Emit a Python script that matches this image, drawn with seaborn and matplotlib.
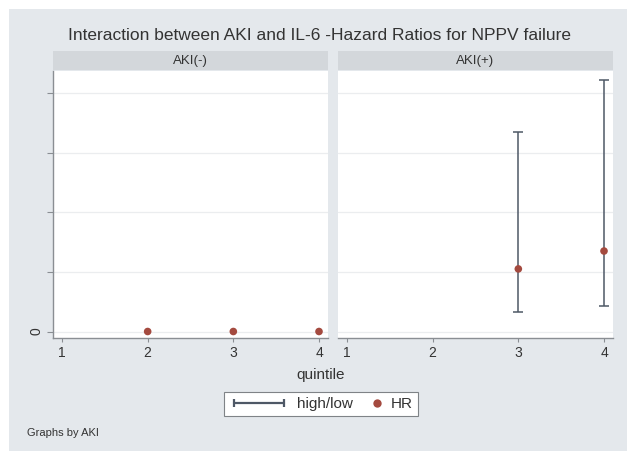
import matplotlib
matplotlib.use("Agg")
import matplotlib.pyplot as plt
import numpy as np
import pandas as pd
import seaborn as sns
from matplotlib.lines import Line2D
from matplotlib.patches import Rectangle
from matplotlib.legend_handler import HandlerLine2D

# data (y in axis units, tick labels other than 0 not shown)
panels = ["AKI(-)", "AKI(+)"]
quintile_neg = [2, 3, 4]
hr_neg = [0.0, 0.0, 0.0]
quintile_pos = [3, 4]
hr_pos = [1.05, 1.35]
low_pos = [0.33, 0.43]
high_pos = [3.34, 4.22]
x_ticks = [1, 2, 3, 4]
y_ticks = [0, 1, 2, 3, 4]
y_ticklabels = ["0", "", "", "", ""]

df = pd.concat([
    pd.DataFrame({"AKI": panels[0], "quintile": quintile_neg, "HR": hr_neg}),
    pd.DataFrame({"AKI": panels[1], "quintile": quintile_pos, "HR": hr_pos,
                  "low": low_pos, "high": high_pos}),
], ignore_index=True)

sns.set_style("white")
plt.rcParams['font.family'] = ['Liberation Sans', 'DejaVu Sans']

bg = '#E4E8EC'
strip_col = '#D3D7DB'
bar_col = '#4E5866'
hr_col = '#A44A3F'
txt = '#333333'
axis_col = '#8A8E93'

fig = plt.figure(figsize=(6.27, 4.51), dpi=100)
fig.patch.set_facecolor('white')
fig.add_artist(Rectangle((9/627, 0), 1, 1 - 9/451, transform=fig.transFigure,
                         facecolor=bg, edgecolor='none', zorder=-10))

W, H = 627, 451
ax_l = fig.add_axes([53/W, 1 - 338/H, 275/W, 267/H])
ax_r = fig.add_axes([338/W, 1 - 338/H, 275/W, 267/H])

for ax, name in zip([ax_l, ax_r], panels):
    sub = df[df["AKI"] == name]
    ax.set_facecolor('white')
    ax.set_xlim(0.895, 4.105)
    ax.set_ylim(-0.109, 4.37)
    ax.set_yticks(y_ticks)
    ax.set_xticks(x_ticks)
    ax.set_xticklabels([str(t) for t in x_ticks])
    ax.grid(axis='y', color='#EBEDEF', lw=0.9, zorder=0)
    ax.set_axisbelow(True)
    rng = sub.dropna(subset=["low", "high"])
    if len(rng):
        ax.errorbar(rng["quintile"], rng["HR"],
                    yerr=[rng["HR"] - rng["low"], rng["high"] - rng["HR"]],
                    fmt='none', ecolor=bar_col, elinewidth=1.1, capsize=3.5,
                    capthick=1.1, zorder=2)
    sns.scatterplot(data=sub, x="quintile", y="HR", ax=ax, color=hr_col,
                    s=30, edgecolor='none', zorder=3, legend=False)
    ax.set_xlabel('')
    ax.set_ylabel('')
    for s in ['top', 'right']:
        ax.spines[s].set_visible(False)
    ax.spines['bottom'].set_color(axis_col)
    ax.spines['bottom'].set_linewidth(1.0)
    ax.tick_params(axis='x', bottom=True, length=3, width=0.8, color=axis_col,
                   labelsize=10, labelcolor=txt, pad=3)
    # strip header
    ax.add_patch(Rectangle((0, 1.004), 1, 19/267, transform=ax.transAxes,
                           facecolor=strip_col, edgecolor='none', clip_on=False))
    ax.text(0.5, 1 + 10/267, name, transform=ax.transAxes, ha='center',
            va='center', fontsize=9.5, color=txt)

ax_l.spines['left'].set_color(axis_col)
ax_l.spines['left'].set_linewidth(1.0)
ax_l.set_yticklabels(y_ticklabels, rotation=90, va='center')
ax_l.tick_params(axis='y', left=True, length=4, width=0.8, color=axis_col,
                 labelsize=10, labelcolor=txt, pad=3)
ax_r.spines['left'].set_visible(False)
ax_r.tick_params(axis='y', left=False, labelleft=False)

fig.text(320/W, 1 - 35/H, "Interaction between AKI and IL-6 -Hazard Ratios for NPPV failure",
         ha='center', va='center', fontsize=12.5, color=txt)
fig.text(321/W, 1 - 375/H, "quintile", ha='center', va='center', fontsize=11, color=txt)
fig.text(27/W, 1 - 433/H, "Graphs by AKI", ha='left', va='center', fontsize=8, color=txt)


class RightMarker(HandlerLine2D):
    def get_xdata(self, legend, xdescent, ydescent, width, height, fontsize):
        x = -xdescent + width - 0.35 * fontsize
        return [x], [x]


bar_handle = Line2D([], [], color=bar_col, lw=1.6, marker='|', markersize=6,
                    markeredgewidth=1.6)
hr_handle = Line2D([], [], ls='none', marker='o', color=hr_col, markersize=6,
                   markeredgewidth=0)
leg = fig.legend([bar_handle, hr_handle], ["high/low", "HR"], ncol=2,
                 loc='center', bbox_to_anchor=(321/W, 1 - 404/H),
                 fontsize=11, handlelength=3.9, handletextpad=0.55,
                 columnspacing=-2.0, borderpad=0.35, frameon=True,
                 fancybox=False, framealpha=1,
                 handler_map={bar_handle: HandlerLine2D(numpoints=2),
                              hr_handle: RightMarker(numpoints=1)})
leg.get_frame().set_edgecolor('#7F8387')
leg.get_frame().set_linewidth(0.8)
leg.get_frame().set_facecolor('white')
for t in leg.get_texts():
    t.set_color(txt)

fig.savefig('out.png', dpi=100)
